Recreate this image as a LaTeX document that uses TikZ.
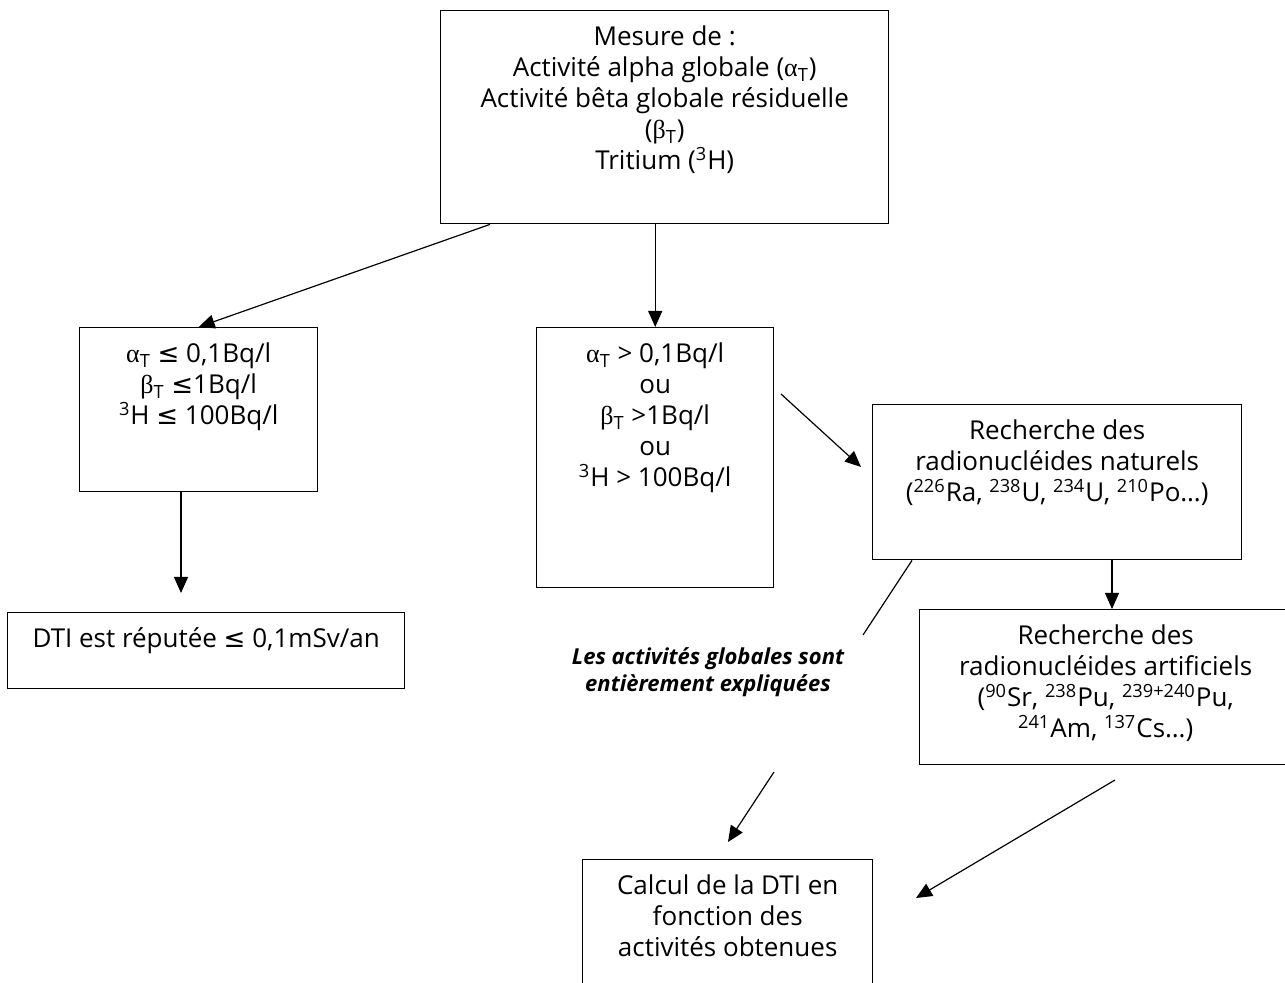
\documentclass[tikz,border=0pt]{standalone}
\usepackage{fontspec}
\setmainfont{Open Sans}
\newfontfamily\grk{Liberation Serif}
\newfontfamily\sym{DejaVu Sans}
\usetikzlibrary{arrows.meta}
\tikzset{box/.style = {draw, line width=0.7pt, anchor=north west, inner sep=0pt},
         arr/.style = {-{Triangle[length=8pt,width=7pt]}, line width=0.6pt},
         lin/.style = {line width=0.6pt}}
% box of fixed size, text hanging from the top
\newcommand{\boxtext}[3]{\parbox[t][#2][t]{#1}{\centering\fontsize{13}{15.5}\selectfont\rule{0pt}{17.5pt}#3}}
\newcommand{\aT}{{\grk α}\textsubscript{T}}
\newcommand{\bT}{{\grk β}\textsubscript{T}}
\newcommand{\lesym}{{\sym ≤}}
\newcommand{\iso}[2]{\textsuperscript{#1}#2}

\begin{document}
\begin{tikzpicture}[x=0.5pt,y=-0.5pt]
\useasboundingbox (0,0) rectangle (1285,983);
\node[box] (top) at (440,10) {\boxtext{224pt}{106.5pt}{Mesure de :\\ Activité alpha globale (\aT)\\ Activité bêta globale résiduelle\\ (\bT)\\ Tritium (\iso{3}{H})}};
\node[box] (low) at (79,327) {\boxtext{119pt}{82pt}{\aT{} \lesym{} 0,1Bq/l\\ \bT{} \lesym1Bq/l\\ \iso{3}{H} \lesym{} 100Bq/l}};
\node[box] (mid) at (536,327) {\boxtext{118.5pt}{130pt}{\aT{} > 0,1Bq/l\\ ou\\ \bT{} >1Bq/l\\ ou\\ \iso{3}{H} > 100Bq/l}};
\node[box] (dti) at (7,612) {\boxtext{198.5pt}{38pt}{DTI est réputée \lesym{} 0,1mSv/an}};
\node[box] (nat) at (872,404) {\boxtext{184.5pt}{77.5pt}{Recherche des\\ radionucléides naturels\\ (\iso{226}{Ra}, \iso{238}{U}, \iso{234}{U}, \iso{210}{Po}…)}};
\node[box] (art) at (919,609) {\boxtext{186pt}{77.5pt}{Recherche des\\ radionucléides artificiels\\ (\iso{90}{Sr}, \iso{238}{Pu}, \iso{239+240}{Pu},\\ \iso{241}{Am}, \iso{137}{Cs}…)}};
\node[box] (calc) at (582,859) {\boxtext{145pt}{68pt}{Calcul de la DTI en\\ fonction des\\ activités obtenues}};
\node[align=center, font=\fontsize{11}{13.5}\selectfont\bfseries\itshape] (expl) at (708,672) {Les activités globales sont\\ entièrement expliquées};
% free ends
\coordinate (m1) at (781,394);
\coordinate (n1) at (861,467);
\coordinate (d1) at (181,593);
\coordinate (e1) at (863,635);
\coordinate (e2) at (774,772);
\coordinate (c1) at (728,842);
\coordinate (a1) at (1115,780);
\coordinate (c2) at (916,898);
\draw [arr] ([xshift=25pt]top.south west) -- (low.north);
\draw [arr] (mid.north |- top.south) -- (mid.north);
\draw [arr] ([xshift=51pt]low.south west) -- (d1);
\draw [arr] (m1) -- (n1);
\draw [arr] ([xshift=120pt]nat.south west) -- ([xshift=120pt]nat.south west |- art.north);
\draw [lin] ([xshift=20pt]nat.south west) -- (e1);
\draw [arr] (e2) -- (c1);
\draw [arr] (a1) -- (c2);
\end{tikzpicture}
\end{document}
